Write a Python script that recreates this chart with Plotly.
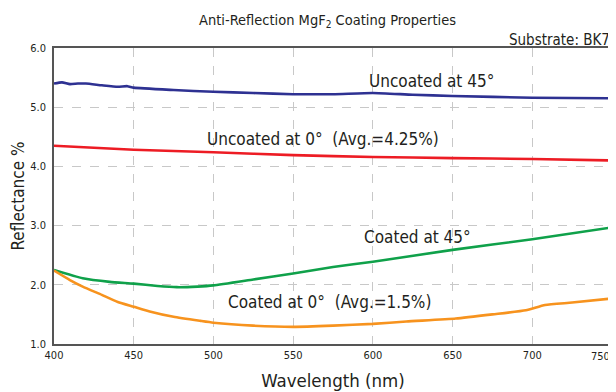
import plotly.graph_objects as go

wl_unc45 = [400, 405, 410, 415, 420, 430, 440, 446, 450, 475, 500, 525, 550, 575, 600, 625, 650, 700, 750]
r_unc45 = [5.40, 5.42, 5.39, 5.40, 5.40, 5.37, 5.345, 5.355, 5.33, 5.29, 5.26, 5.24, 5.22, 5.22, 5.24, 5.21, 5.19, 5.16, 5.15]

wl_unc0 = [400, 450, 500, 550, 600, 650, 700, 750]
r_unc0 = [4.35, 4.28, 4.24, 4.19, 4.16, 4.14, 4.125, 4.10]

wl_c45 = [400, 418, 435, 450, 465, 477, 490, 500, 525, 550, 575, 600, 650, 700, 750]
r_c45 = [2.25, 2.11, 2.05, 2.02, 1.98, 1.96, 1.97, 1.99, 2.09, 2.19, 2.30, 2.39, 2.59, 2.77, 2.97]

wl_c0 = [400, 410, 418, 430, 440, 450, 460, 475, 492, 500, 525, 550, 575, 600, 621, 652, 675, 696, 708, 725, 750]
r_c0 = [2.24, 2.08, 1.97, 1.83, 1.71, 1.63, 1.55, 1.46, 1.39, 1.36, 1.31, 1.29, 1.31, 1.34, 1.38, 1.43, 1.50, 1.57, 1.66, 1.70, 1.77]

x_ticks = [400, 450, 500, 550, 600, 650, 700]
last_x_tick = 750
y_ticks = [1.0, 2.0, 3.0, 4.0, 5.0, 6.0]
y_tick_labels = ["1.0", "2.0", "3.0", "4.0", "5.0", "6.0"]

FONT = "DejaVu Sans Condensed, DejaVu Sans, sans-serif"

def f(size):
    return dict(family=FONT, size=size, color="#231f20")

fig = go.Figure()
series = [
    (wl_unc45, r_unc45, "#2e3192"),
    (wl_unc0, r_unc0, "#ed1c24"),
    (wl_c45, r_c45, "#0fa14a"),
    (wl_c0, r_c0, "#f7931e"),
]
for x, y, c in series:
    fig.add_trace(go.Scatter(x=x, y=y, mode="lines", line=dict(color=c, width=2.6, shape="spline", smoothing=0.5),
                             showlegend=False, hoverinfo="skip"))

labels = [
    ("Uncoated at 45°", 637, 5.44),
    ("Uncoated at 0°  (Avg.=4.25%)", 569, 4.46),
    ("Coated at 45°", 628, 2.81),
    ("Coated at 0°  (Avg.=1.5%)", 573, 1.71),
]
for t, x, y in labels:
    fig.add_annotation(x=x, y=y, text=t, showarrow=False, xanchor="center", yanchor="middle", font=f(17))

fig.add_annotation(xref="paper", yref="paper", x=0.49, y=1.0, yshift=27, text="Anti-Reflection MgF<sub>2</sub> Coating Properties",
                   showarrow=False, xanchor="center", yanchor="middle", font=f(14.5))
fig.add_annotation(xref="paper", yref="paper", x=1.0, y=1.0, yshift=8, text="Substrate: BK7",
                   showarrow=False, xanchor="right", yanchor="middle", font=f(15))
# last x tick label (sits at the right edge of the chart)
fig.add_annotation(x=last_x_tick, xref="x", yref="paper", y=0, yshift=-12, xshift=0, text=str(last_x_tick),
                   showarrow=False, xanchor="right", yanchor="middle", font=f(11))

fig.update_layout(
    width=608, height=384,
    margin=dict(l=46, r=4, t=40, b=48),
    paper_bgcolor="white", plot_bgcolor="white",
    font=dict(family=FONT, color="#231f20"),
    xaxis=dict(range=[400, 750], tickvals=x_ticks, ticktext=[str(v) for v in x_ticks],
               showgrid=True, gridcolor="#c8c8c8", griddash="dash", gridwidth=1,
               showline=True, linecolor="#555555", linewidth=1.5, mirror=True, zeroline=False,
               ticks="", tickfont=f(11), automargin=False,
               title=dict(text="Wavelength (nm)", font=f(18.5), standoff=13)),
    yaxis=dict(range=[1.0, 6.0], tickvals=y_ticks, ticktext=y_tick_labels,
               showgrid=True, gridcolor="#c8c8c8", griddash="dash", gridwidth=1,
               showline=True, linecolor="#555555", linewidth=1.5, mirror=True, zeroline=False,
               ticks="", tickfont=f(11), automargin=False, ticklabelstandoff=4,
               title=dict(text="Reflectance %", font=f(17), standoff=5)),
)

fig.write_html("out.html")
